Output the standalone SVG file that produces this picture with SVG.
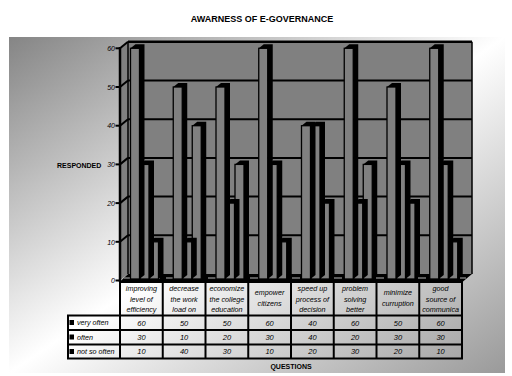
<svg xmlns="http://www.w3.org/2000/svg" width="512" height="376" viewBox="0 0 512 376">
<defs>
<linearGradient id="bg" x1="0" y1="0" x2="1" y2="1">
<stop offset="0" stop-color="#858585"/>
<stop offset="0.5" stop-color="#ffffff"/>
<stop offset="1" stop-color="#9a9a9a"/>
</linearGradient>
</defs>
<style>
text{font-family:"Liberation Sans",Arial,sans-serif;fill:#000}
.t{font-size:9px;font-weight:bold;text-anchor:middle}
.ax{font-size:7px;font-weight:bold}
.yl{font-size:7px;font-style:italic;text-anchor:end}
.h{font-size:7.2px;font-style:italic;text-anchor:middle}
.v{font-size:7.5px;font-style:italic;text-anchor:middle}
.r{font-size:7.2px;font-style:italic}
.bf{fill:#808080;stroke:#000;stroke-width:1.3}
.bs{fill:#000}
.g{stroke:#000;stroke-width:2;fill:none}
.tl{stroke:#000;stroke-width:2;fill:none}
</style>
<rect x="0" y="0" width="512" height="376" fill="#fff"/>
<rect x="9" y="37" width="496" height="336" fill="url(#bg)"/>
<text class="t" x="262" y="21.5">AWARNESS OF E-GOVERNANCE</text>

<g id="plot-walls">
<rect x="128" y="41.8" width="344" height="232.2" fill="#808080"/>
<polygon points="120,48.3 128,41.8 128,274 120,280.5" fill="#808080"/>
<polygon points="120,281.5 463,281.5 472,274 128,274" fill="#000"/>
<line x1="124" y1="278" x2="466" y2="278" stroke="#7a7a7a" stroke-width="1.6" stroke-dasharray="8 6"/>
<g class="g">
<line x1="128" y1="41.8" x2="472" y2="41.8" stroke-width="2.5"/>
<line x1="128" y1="80.5" x2="472" y2="80.5"/>
<line x1="128" y1="119.2" x2="472" y2="119.2"/>
<line x1="128" y1="157.9" x2="472" y2="157.9"/>
<line x1="128" y1="196.6" x2="472" y2="196.6"/>
<line x1="128" y1="235.3" x2="472" y2="235.3"/>
<line x1="120" y1="48.3" x2="128" y2="41.8"/>
<line x1="120" y1="87" x2="128" y2="80.5"/>
<line x1="120" y1="125.7" x2="128" y2="119.2"/>
<line x1="120" y1="164.4" x2="128" y2="157.9"/>
<line x1="120" y1="203.1" x2="128" y2="196.6"/>
<line x1="120" y1="241.8" x2="128" y2="235.3"/>
<line x1="128" y1="41.8" x2="128" y2="274" stroke-width="1.5"/>
<line x1="472" y1="41.8" x2="472" y2="274" stroke-width="1.5"/>
<line x1="120" y1="47" x2="120" y2="282" stroke-width="2.5"/>
<line x1="115.5" y1="48.3" x2="120" y2="48.3"/>
<line x1="115.5" y1="87" x2="120" y2="87"/>
<line x1="115.5" y1="125.7" x2="120" y2="125.7"/>
<line x1="115.5" y1="164.4" x2="120" y2="164.4"/>
<line x1="115.5" y1="203.1" x2="120" y2="203.1"/>
<line x1="115.5" y1="241.8" x2="120" y2="241.8"/>
<line x1="115.5" y1="280.5" x2="120" y2="280.5"/>
</g>
<text class="yl" x="115" y="51">60</text>
<text class="yl" x="115" y="89.7">50</text>
<text class="yl" x="115" y="128.4">40</text>
<text class="yl" x="115" y="167.1">30</text>
<text class="yl" x="115" y="205.8">20</text>
<text class="yl" x="115" y="244.5">10</text>
<text class="yl" x="115" y="283.2">0</text>
<text class="ax" x="57" y="167.5">RESPONDED</text>
</g>

<g id="bars-1" transform="translate(1,0)">
<rect class="bf" x="148.5" y="241.8" width="9" height="37.2"/><polygon class="bs" points="148.5,241.8 153.5,237.8 162.5,237.8 162.5,275 157.5,279 157.5,241.8"/>
<rect class="bf" x="139" y="164.4" width="9" height="114.6"/><polygon class="bs" points="139,164.4 144,160.4 153,160.4 153,275 148,279 148,164.4"/>
<rect class="bf" x="129.5" y="48.3" width="9" height="230.7"/><polygon class="bs" points="129.5,48.3 134.5,44.3 143.5,44.3 143.5,275 138.5,279 138.5,48.3"/>
</g>
<g id="bars-2" transform="translate(1,0)">
<rect class="bf" x="191.25" y="125.7" width="9" height="153.3"/><polygon class="bs" points="191.25,125.7 196.25,121.7 205.25,121.7 205.25,275 200.25,279 200.25,125.7"/>
<rect class="bf" x="181.75" y="241.8" width="9" height="37.2"/><polygon class="bs" points="181.75,241.8 186.75,237.8 195.75,237.8 195.75,275 190.75,279 190.75,241.8"/>
<rect class="bf" x="172.25" y="87" width="9" height="192"/><polygon class="bs" points="172.25,87 177.25,83 186.25,83 186.25,275 181.25,279 181.25,87"/>
</g>
<g id="bars-3" transform="translate(1,0)">
<rect class="bf" x="234" y="164.4" width="9" height="114.6"/><polygon class="bs" points="234,164.4 239,160.4 248,160.4 248,275 243,279 243,164.4"/>
<rect class="bf" x="224.5" y="203.1" width="9" height="75.9"/><polygon class="bs" points="224.5,203.1 229.5,199.1 238.5,199.1 238.5,275 233.5,279 233.5,203.1"/>
<rect class="bf" x="215" y="87" width="9" height="192"/><polygon class="bs" points="215,87 220,83 229,83 229,275 224,279 224,87"/>
</g>
<g id="bars-4" transform="translate(1,0)">
<rect class="bf" x="276.75" y="241.8" width="9" height="37.2"/><polygon class="bs" points="276.75,241.8 281.75,237.8 290.75,237.8 290.75,275 285.75,279 285.75,241.8"/>
<rect class="bf" x="267.25" y="164.4" width="9" height="114.6"/><polygon class="bs" points="267.25,164.4 272.25,160.4 281.25,160.4 281.25,275 276.25,279 276.25,164.4"/>
<rect class="bf" x="257.75" y="48.3" width="9" height="230.7"/><polygon class="bs" points="257.75,48.3 262.75,44.3 271.75,44.3 271.75,275 266.75,279 266.75,48.3"/>
</g>
<g id="bars-5" transform="translate(1,0)">
<rect class="bf" x="319.5" y="203.1" width="9" height="75.9"/><polygon class="bs" points="319.5,203.1 324.5,199.1 333.5,199.1 333.5,275 328.5,279 328.5,203.1"/>
<rect class="bf" x="310" y="125.7" width="9" height="153.3"/><polygon class="bs" points="310,125.7 315,121.7 324,121.7 324,275 319,279 319,125.7"/>
<rect class="bf" x="300.5" y="125.7" width="9" height="153.3"/><polygon class="bs" points="300.5,125.7 305.5,121.7 314.5,121.7 314.5,275 309.5,279 309.5,125.7"/>
</g>
<g id="bars-6" transform="translate(1,0)">
<rect class="bf" x="362.25" y="164.4" width="9" height="114.6"/><polygon class="bs" points="362.25,164.4 367.25,160.4 376.25,160.4 376.25,275 371.25,279 371.25,164.4"/>
<rect class="bf" x="352.75" y="203.1" width="9" height="75.9"/><polygon class="bs" points="352.75,203.1 357.75,199.1 366.75,199.1 366.75,275 361.75,279 361.75,203.1"/>
<rect class="bf" x="343.25" y="48.3" width="9" height="230.7"/><polygon class="bs" points="343.25,48.3 348.25,44.3 357.25,44.3 357.25,275 352.25,279 352.25,48.3"/>
</g>
<g id="bars-7" transform="translate(1,0)">
<rect class="bf" x="405" y="203.1" width="9" height="75.9"/><polygon class="bs" points="405,203.1 410,199.1 419,199.1 419,275 414,279 414,203.1"/>
<rect class="bf" x="395.5" y="164.4" width="9" height="114.6"/><polygon class="bs" points="395.5,164.4 400.5,160.4 409.5,160.4 409.5,275 404.5,279 404.5,164.4"/>
<rect class="bf" x="386" y="87" width="9" height="192"/><polygon class="bs" points="386,87 391,83 400,83 400,275 395,279 395,87"/>
</g>
<g id="bars-8" transform="translate(1,0)">
<rect class="bf" x="447.75" y="241.8" width="9" height="37.2"/><polygon class="bs" points="447.75,241.8 452.75,237.8 461.75,237.8 461.75,275 456.75,279 456.75,241.8"/>
<rect class="bf" x="438.25" y="164.4" width="9" height="114.6"/><polygon class="bs" points="438.25,164.4 443.25,160.4 452.25,160.4 452.25,275 447.25,279 447.25,164.4"/>
<rect class="bf" x="428.75" y="48.3" width="9" height="230.7"/><polygon class="bs" points="428.75,48.3 433.75,44.3 442.75,44.3 442.75,275 437.75,279 437.75,48.3"/>
</g>

<g id="table">
<g class="tl">
<line x1="120" y1="282" x2="463" y2="282"/>
<line x1="67" y1="315.5" x2="463" y2="315.5"/>
<line x1="67" y1="330" x2="463" y2="330"/>
<line x1="67" y1="344.5" x2="463" y2="344.5"/>
<line x1="67" y1="358.5" x2="463" y2="358.5"/>
<line x1="68" y1="315.5" x2="68" y2="358.5"/>
<line x1="120" y1="281" x2="120" y2="358.5"/>
<line x1="162.75" y1="281" x2="162.75" y2="358.5"/>
<line x1="205.5" y1="281" x2="205.5" y2="358.5"/>
<line x1="248.25" y1="281" x2="248.25" y2="358.5"/>
<line x1="291" y1="281" x2="291" y2="358.5"/>
<line x1="333.75" y1="281" x2="333.75" y2="358.5"/>
<line x1="376.5" y1="281" x2="376.5" y2="358.5"/>
<line x1="419.25" y1="281" x2="419.25" y2="358.5"/>
<line x1="462" y1="281" x2="462" y2="358.5"/>
</g>
<rect x="69.5" y="320" width="4.5" height="5" fill="#000"/>
<rect x="69.5" y="334.5" width="4.5" height="5" fill="#000"/>
<rect x="69.5" y="349" width="4.5" height="5" fill="#000"/>
<text class="r" x="77" y="325.3">very often</text>
<text class="r" x="77" y="339.8">often</text>
<text class="r" x="77" y="353.8">not so often</text>

<text class="h" x="141.4" y="291">improving</text>
<text class="h" x="141.4" y="301.5">level of</text>
<text class="h" x="141.4" y="312">efficiency</text>
<text class="h" x="184.1" y="291">decrease</text>
<text class="h" x="184.1" y="301.5">the work</text>
<text class="h" x="184.1" y="312">load on</text>
<text class="h" x="226.9" y="291">economize</text>
<text class="h" x="226.9" y="301.5">the college</text>
<text class="h" x="226.9" y="312">education</text>
<text class="h" x="269.6" y="294.5">empower</text>
<text class="h" x="269.6" y="305.5">citizens</text>
<text class="h" x="312.4" y="291">speed up</text>
<text class="h" x="312.4" y="301.5">process of</text>
<text class="h" x="312.4" y="312">decision</text>
<text class="h" x="355.1" y="291">problem</text>
<text class="h" x="355.1" y="301.5">solving</text>
<text class="h" x="355.1" y="312">better</text>
<text class="h" x="397.9" y="294.5">minimize</text>
<text class="h" x="397.9" y="305.5">curruption</text>
<text class="h" x="440.6" y="291">good</text>
<text class="h" x="440.6" y="301.5">source of</text>
<text class="h" x="440.6" y="312">communica</text>

<text class="v" x="141.4" y="325.5">60</text><text class="v" x="184.1" y="325.5">50</text><text class="v" x="226.9" y="325.5">50</text><text class="v" x="269.6" y="325.5">60</text><text class="v" x="312.4" y="325.5">40</text><text class="v" x="355.1" y="325.5">60</text><text class="v" x="397.9" y="325.5">50</text><text class="v" x="440.6" y="325.5">60</text>
<text class="v" x="141.4" y="340">30</text><text class="v" x="184.1" y="340">10</text><text class="v" x="226.9" y="340">20</text><text class="v" x="269.6" y="340">30</text><text class="v" x="312.4" y="340">40</text><text class="v" x="355.1" y="340">20</text><text class="v" x="397.9" y="340">30</text><text class="v" x="440.6" y="340">30</text>
<text class="v" x="141.4" y="354">10</text><text class="v" x="184.1" y="354">40</text><text class="v" x="226.9" y="354">30</text><text class="v" x="269.6" y="354">10</text><text class="v" x="312.4" y="354">20</text><text class="v" x="355.1" y="354">30</text><text class="v" x="397.9" y="354">20</text><text class="v" x="440.6" y="354">10</text>
</g>
<text class="ax" x="291" y="369" text-anchor="middle">QUESTIONS</text>
</svg>
